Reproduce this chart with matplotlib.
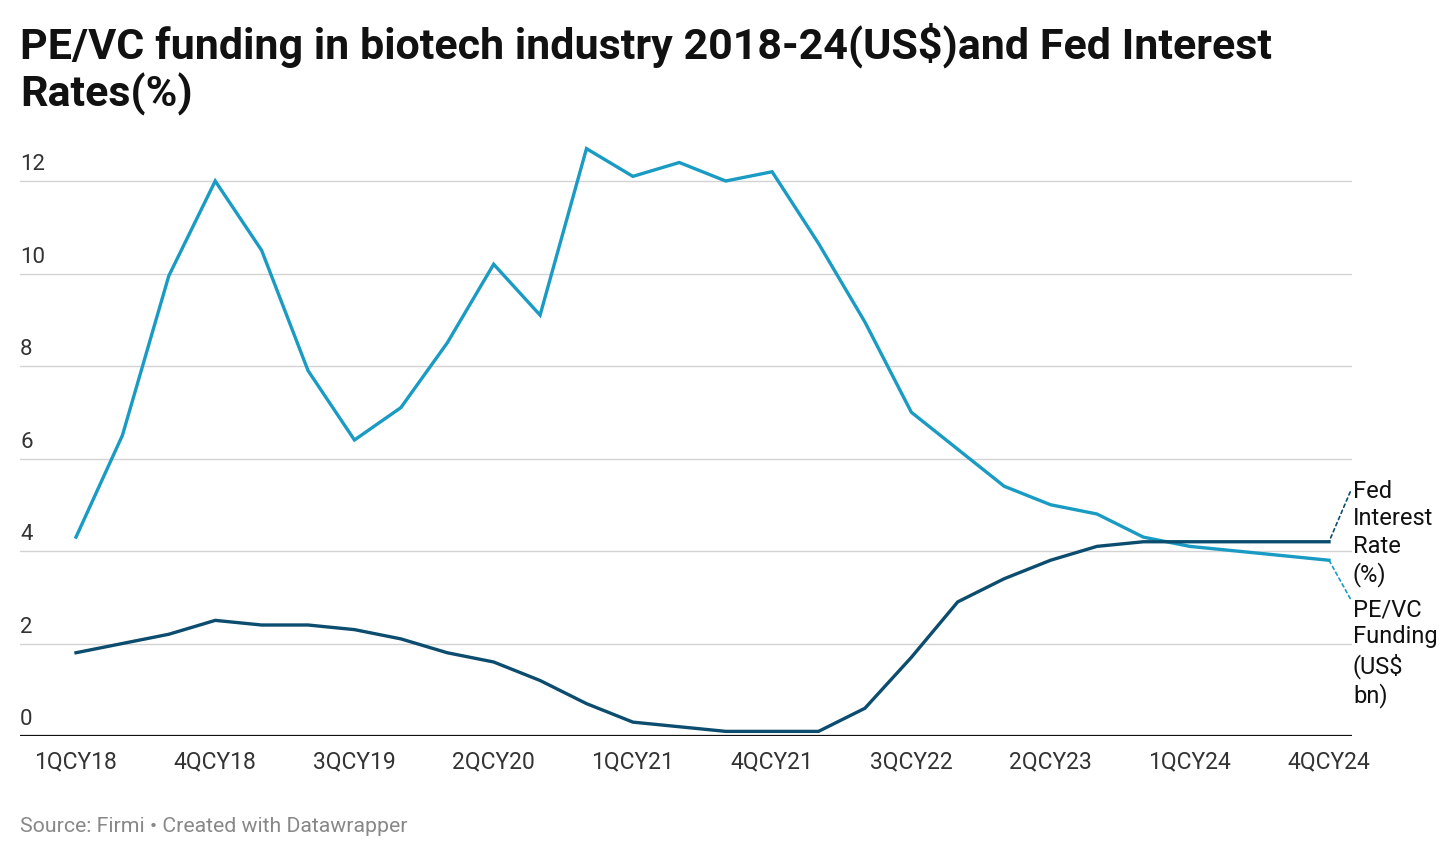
import matplotlib
matplotlib.use("Agg")
import matplotlib.pyplot as plt

plt.rcParams["font.family"] = ["Roboto", "DejaVu Sans"]

# ── Data ─────────────────────────────────────────────────────────────────────
quarters = [f"{q}QCY{y}" for y in range(18, 25) for q in range(1, 5)]
funding = [4.3, 6.5, 9.95, 12.0, 10.5, 7.9, 6.4, 7.1, 8.5, 10.2, 9.1, 12.7,
           12.1, 12.4, 12.0, 12.2, 10.65, 8.95, 7.0, 6.2, 5.4, 5.0, 4.8, 4.3,
           4.1, 4.0, 3.9, 3.8]
fed_rate = [1.8, 2.0, 2.2, 2.5, 2.4, 2.4, 2.3, 2.1, 1.8, 1.6, 1.2, 0.7,
            0.3, 0.2, 0.1, 0.1, 0.1, 0.6, 1.7, 2.9, 3.4, 3.8, 4.1, 4.2,
            4.2, 4.2, 4.2, 4.2]
y_ticks = [0, 2, 4, 6, 8, 10, 12]
x_tick_idx = list(range(0, 28, 3))

# ── Style ────────────────────────────────────────────────────────────────────
LIGHT = "#1a9bc4"
DARK = "#0c4d6f"
GRID = "#d3d3d3"
TICK = "#333333"
MUTED = "#888888"

W, H = 1456, 859
fig = plt.figure(figsize=(W / 100, H / 100), dpi=100)
fig.patch.set_facecolor("white")

# axes frame in pixel terms: x 20..1352, y 140..736 (from top)
ax = fig.add_axes([20 / W, (H - 736) / H, (1352 - 20) / W, (736 - 140) / H])
n = len(quarters)
step = (n - 1) / (1329 - 76)
ax.set_xlim(-56 * step, (n - 1) + 23 * step)
ax.set_ylim(0, 12 * (736 - 140) / (736 - 181))

for s in ax.spines.values():
    s.set_visible(False)
ax.set_yticks([])
ax.set_xticks(x_tick_idx)
ax.set_xticklabels([quarters[i] for i in x_tick_idx], fontsize=16.5, color=TICK)
ax.tick_params(axis="x", length=0, pad=10)

for v in y_ticks:
    if v == 0:
        ax.axhline(v, color="#111111", lw=1.6, zorder=4)
    else:
        ax.axhline(v, color=GRID, lw=1.0, zorder=1)
    ax.annotate(str(v), xy=(0, v), xycoords=("axes fraction", "data"),
                xytext=(0, 4), textcoords="offset points",
                ha="left", va="bottom", fontsize=16, color=TICK)

xs = list(range(n))
ax.plot(xs, funding, color=LIGHT, lw=2.4, zorder=3, solid_joinstyle="miter")
ax.plot(xs, fed_rate, color=DARK, lw=2.4, zorder=3, solid_joinstyle="miter")

# ── End labels with dotted connectors ────────────────────────────────────────
last = n - 1
ax.annotate("Fed\nInterest\nRate\n(%)", xy=(last, fed_rate[-1]),
            xytext=(1353, 859 - 480), textcoords="figure pixels",
            ha="left", va="top", fontsize=17, color="#111111",
            linespacing=1.24, annotation_clip=False,
            arrowprops=dict(arrowstyle="-", color=DARK, lw=1.2, ls=(0, (2, 2)),
                            shrinkA=0, shrinkB=0, relpos=(0, 0.95)))
ax.annotate("PE/VC\nFunding\n(US$\nbn)", xy=(last, funding[-1]),
            xytext=(1353, 859 - 598), textcoords="figure pixels",
            ha="left", va="top", fontsize=17, color="#111111",
            linespacing=1.24, annotation_clip=False,
            arrowprops=dict(arrowstyle="-", color=LIGHT, lw=1.2, ls=(0, (2, 2)),
                            shrinkA=0, shrinkB=0, relpos=(0, 0.95)))

# ── Title & footer ───────────────────────────────────────────────────────────
fig.text(20 / W, 1 - 22 / H,
         "PE/VC funding in biotech industry 2018-24(US$)and Fed Interest\nRates(%)",
         ha="left", va="top", fontsize=31, fontweight="bold", color="#111111",
         linespacing=1.15)
fig.text(20 / W, 1 - 827 / H, "Source: Firmi \u2022 Created with Datawrapper",
         ha="left", va="center", fontsize=15.3, color=MUTED)

fig.savefig("out.png", dpi=100, facecolor="white")
